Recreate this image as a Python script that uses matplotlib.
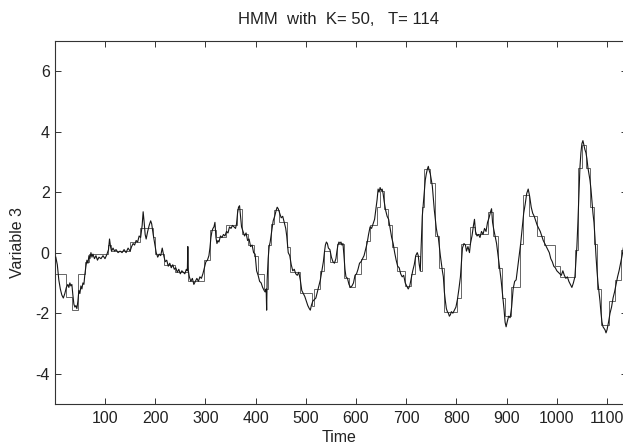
import numpy as np
import matplotlib
matplotlib.use("Agg")
import matplotlib.pyplot as plt

# ---- data ----
time = [2, 5, 8, 11, 14, 17, 20, 23, 26, 28, 30, 32, 34, 36, 38, 40, 42, 44, 46, 48, 50, 52, 54, 56, 58,
        60, 62, 64, 66, 68, 70, 72, 74, 76, 79, 82, 85, 88, 92, 96, 100, 104, 107, 109, 111, 113, 116, 119,
        122, 126, 130, 134, 138, 142, 146, 150, 153, 156, 159, 162, 165, 168, 171, 174, 176, 178, 180, 182,
        185, 188, 191, 193, 196, 199, 202, 205, 208, 211, 214, 217, 220, 223, 226, 229, 232, 235, 238, 241,
        244, 247, 250, 253, 256, 259, 262, 264, 265, 266, 268, 271, 274, 277, 280, 283, 286, 289, 292, 295,
        298, 301, 304, 307, 309, 311, 313, 315, 317, 319, 321, 323, 325, 327, 330, 333, 336, 339, 342, 345,
        348, 351, 354, 357, 360, 362, 364, 366, 368, 370, 372, 375, 378, 381, 384, 387, 390, 393, 396, 399,
        402, 405, 408, 411, 414, 417, 419, 421, 422, 423, 425, 427, 429, 432, 435, 438, 441, 443, 445, 448,
        451, 454, 457, 460, 462, 465, 468, 471, 474, 477, 480, 483, 486, 489, 492, 495, 498, 501, 504, 507,
        509, 511, 514, 517, 520, 523, 526, 529, 532, 535, 537, 539, 541, 543, 545, 548, 551, 554, 557, 560,
        562, 564, 566, 568, 570, 572, 574, 576, 578, 580, 583, 586, 589, 592, 595, 598, 601, 604, 607, 610,
        613, 616, 619, 622, 625, 628, 631, 634, 637, 640, 642, 644, 646, 648, 650, 652, 654, 656, 659, 662,
        665, 668, 671, 674, 677, 680, 683, 686, 689, 692, 695, 698, 701, 704, 707, 710, 713, 716, 719, 722,
        724, 726, 728, 730, 732, 734, 736, 738, 740, 742, 744, 746, 748, 750, 752, 754, 756, 758, 760, 762,
        764, 766, 768, 770, 772, 774, 776, 778, 780, 782, 784, 786, 788, 790, 793, 796, 799, 802, 805, 808,
        810, 812, 815, 818, 820, 823, 826, 828, 831, 834, 836, 838, 841, 844, 847, 850, 853, 856, 859, 862,
        865, 868, 870, 872, 874, 877, 880, 883, 886, 889, 892, 895, 897, 899, 901, 904, 907, 910, 913, 916,
        919, 922, 925, 928, 931, 934, 937, 940, 943, 946, 949, 952, 955, 958, 961, 964, 967, 970, 973, 976,
        979, 982, 985, 988, 991, 994, 997, 1000, 1003, 1006, 1009, 1012, 1015, 1018, 1021, 1024, 1027, 1030,
        1033, 1036, 1038, 1040, 1042, 1044, 1046, 1048, 1050, 1052, 1054, 1056, 1058, 1060, 1062, 1064, 1066,
        1068, 1070, 1072, 1074, 1076, 1078, 1080, 1082, 1084, 1086, 1088, 1090, 1092, 1094, 1096, 1098, 1100,
        1103, 1106, 1109, 1112, 1115, 1118, 1121, 1124, 1127, 1130, 1133, 1136, 1139]

variable3 = [-0.15, -0.4, -0.9, -1.2, -1.4, -1.5, -1.35, -1.15, -1.05, -1.15, -1.0, -1.1, -1.05, -1.4, -1.7,
             -1.8, -1.75, -1.85, -1.6, -1.25, -1.35, -1.1, -1.2, -1.0, -1.05, -0.7, -0.45, -0.25, -0.35, -0.1,
             -0.2, 0.0, -0.15, -0.05, -0.2, -0.1, -0.25, -0.15, -0.2, -0.1, -0.2, -0.05, 0.1, 0.45, 0.2, 0.05,
             0.15, 0.05, 0.1, 0.0, 0.05, 0.0, 0.1, 0.0, 0.15, 0.05, 0.2, 0.3, 0.25, 0.4, 0.35, 0.55, 0.5, 0.9,
             1.35, 1.0, 0.6, 0.45, 0.7, 0.9, 1.05, 0.95, 0.6, 0.3, 0.0, -0.15, -0.05, -0.1, 0.15, -0.1, -0.3,
             -0.25, -0.45, -0.35, -0.5, -0.4, -0.55, -0.5, -0.65, -0.55, -0.7, -0.6, -0.65, -0.7, -0.55, -0.6,
             0.2, -0.6, -0.8, -0.95, -0.85, -1.05, -0.95, -0.85, -0.95, -0.8, -0.85, -0.7, -0.5, -0.3, -0.25,
             -0.1, 0.15, 0.5, 0.7, 0.8, 0.85, 1.0, 0.5, 0.3, 0.4, 0.35, 0.55, 0.5, 0.6, 0.55, 0.7, 0.65, 0.85,
             0.8, 0.9, 0.85, 0.8, 0.95, 1.3, 1.5, 1.55, 1.2, 0.85, 0.7, 0.55, 0.65, 0.4, 0.45, 0.2, 0.25, 0.0,
             -0.05, -0.6, -0.75, -0.95, -1.0, -1.15, -1.25, -1.3, -1.2, -1.9, -0.9, -0.2, 0.2, 0.35, 0.7, 1.05,
             1.2, 1.4, 1.5, 1.45, 1.3, 1.15, 1.2, 1.0, 0.8, 0.55, 0.0, -0.1, -0.4, -0.6, -0.55, -0.7, -0.75,
             -0.65, -0.9, -1.25, -1.35, -1.45, -1.6, -1.75, -1.85, -1.9, -1.75, -1.6, -1.55, -1.5, -1.3, -1.1,
             -0.9, -0.6, -0.3, 0.0, 0.25, 0.35, 0.3, 0.15, 0.1, -0.15, -0.3, -0.35, -0.2, 0.05, 0.25, 0.35, 0.3,
             0.35, 0.25, 0.3, -0.1, -0.55, -0.8, -0.85, -1.05, -1.15, -1.1, -1.0, -0.75, -0.7, -0.55, -0.35,
             -0.3, -0.2, -0.1, 0.1, 0.3, 0.6, 0.85, 0.8, 0.95, 1.1, 1.5, 1.75, 2.1, 2.0, 2.15, 2.05, 2.1, 1.95,
             1.7, 1.4, 1.2, 1.1, 0.8, 0.5, 0.3, 0.0, -0.25, -0.45, -0.5, -0.7, -0.8, -0.75, -1.0, -1.1, -1.2,
             -1.1, -0.85, -0.6, -0.4, -0.1, 0.0, -0.1, -0.4, -0.6, 0.3, 1.2, 1.6, 2.0, 2.4, 2.6, 2.75, 2.85,
             2.7, 2.6, 2.4, 2.2, 1.8, 1.4, 1.1, 0.8, 0.6, 0.5, 0.2, -0.1, -0.35, -0.6, -0.8, -1.3, -1.6, -1.85,
             -1.95, -2.0, -2.1, -2.05, -1.95, -2.0, -1.9, -1.8, -1.55, -1.2, -0.8, -0.3, 0.15, 0.3, 0.25, 0.05,
             0.2, 0.0, 0.3, 0.55, 0.9, 1.1, 0.7, 0.55, 0.6, 0.5, 0.7, 0.6, 0.8, 0.7, 1.0, 1.15, 1.35, 1.45, 1.0,
             0.8, 0.55, 0.3, -0.1, -0.5, -0.9, -1.4, -1.9, -2.3, -2.45, -2.3, -2.1, -2.15, -1.8, -1.2, -0.95,
             -0.9, -0.5, -0.1, 0.3, 0.8, 1.3, 1.6, 1.95, 2.1, 1.85, 1.5, 1.3, 1.2, 1.05, 0.9, 0.8, 0.7, 0.55,
             0.4, 0.3, 0.2, 0.1, 0.0, -0.2, -0.3, -0.45, -0.5, -0.6, -0.65, -0.7, -0.75, -0.6, -0.75, -0.85,
             -0.8, -0.95, -1.05, -1.15, -1.0, -0.8, -0.3, 0.2, 1.0, 1.9, 2.8, 3.3, 3.6, 3.7, 3.55, 3.4, 3.3,
             3.1, 2.8, 2.6, 2.4, 2.1, 1.7, 1.3, 1.0, 0.5, -0.1, -0.6, -1.0, -1.3, -1.6, -2.0, -2.3, -2.45, -2.5,
             -2.55, -2.65, -2.55, -2.3, -2.0, -1.8, -1.5, -1.3, -1.05, -0.8, -0.6, -0.35, -0.1, 0.2, 0.4, 0.5]

# HMM piecewise-constant reconstruction: segment edges and state levels
hmm_edges = [1, 22, 34, 47, 60, 68, 105, 112, 150, 170, 195, 200, 218, 240, 266, 298, 310, 321, 342, 362,
             372, 384, 396, 405, 416, 424, 430, 437, 447, 462, 468, 489, 512, 516, 528, 536, 548, 562, 576,
             586, 598, 609, 620, 628, 641, 647, 656, 664, 672, 681, 698, 710, 717, 727, 731, 736, 748, 758,
             766, 776, 801, 810, 828, 838, 862, 872, 882, 890, 896, 908, 927, 932, 945, 960, 975, 996, 1006,
             1036, 1043, 1050, 1058, 1066, 1074, 1080, 1088, 1104, 1116, 1128, 1140]
hmm_levels = [-0.7, -1.45, -1.9, -0.7, -0.3, -0.05, 0.25, 0.05, 0.35, 0.8, 0.5, -0.05, -0.4, -0.65, -0.95,
              -0.25, 0.75, 0.5, 0.9, 1.45, 0.6, 0.25, -0.1, -0.7, -1.2, 0.25, 0.95, 1.4, 1.0, 0.2, -0.65,
              -1.35, -1.75, -1.2, -0.6, 0.05, -0.3, 0.3, -0.85, -1.15, -0.7, -0.2, 0.4, 0.9, 1.5, 2.05, 1.45,
              0.9, 0.2, -0.6, -1.1, -0.7, -0.1, -0.6, 1.5, 2.75, 2.3, 0.55, -0.5, -1.95, -1.5, 0.3, 0.85,
              0.6, 1.35, 0.55, -0.5, -1.5, -2.1, -1.15, 0.3, 1.9, 1.2, 0.55, 0.25, -0.45, -0.8, 0.1, 2.8,
              3.55, 2.8, 1.5, 0.3, -1.2, -2.4, -1.6, -0.9, 0.1]

x_ticks = [100, 200, 300, 400, 500, 600, 700, 800, 900, 1000, 1100]
y_ticks = [-4, -2, 0, 2, 4, 6]

title_text = "HMM  with  K= 50,   T= 114"
x_label = "Time"
y_label = "Variable 3"

# ---- figure ----
plt.rcParams['font.family'] = ['Liberation Sans', 'DejaVu Sans']
plt.rcParams['axes.unicode_minus'] = False

W, H = 623, 447
fig = plt.figure(figsize=(W / 100, H / 100), dpi=100)
ax = fig.add_axes([55.3 / W, 43 / H, 571.8 / W, 363.3 / H])

ax.stairs(hmm_levels, hmm_edges, color='#666666', linewidth=0.7, baseline=None, zorder=2)
ax.plot(time, variable3, color='#151515', linewidth=0.8, zorder=3)

ax.set_xlim(1, 1140)
ax.set_ylim(-5, 7)
ax.set_xticks(x_ticks)
ax.set_yticks(y_ticks)
ax.set_xticklabels([str(t) for t in x_ticks])
ax.set_yticklabels([str(t) for t in y_ticks])

ax.tick_params(direction='in', length=4, width=0.7, top=True, right=True,
               labelsize=11.5, colors='#333333', labelcolor='#222222')
ax.tick_params(axis='x', pad=5)
ax.tick_params(axis='y', pad=4)
for s in ax.spines.values():
    s.set_linewidth(0.8)
    s.set_color('#333333')

fig.text(339 / W, 1 - 20 / H, title_text, ha='center', va='center', fontsize=12, color='#222222')
fig.text(339 / W, 1 - 438 / H, x_label, ha='center', va='center', fontsize=11.5, color='#222222')
fig.text(18 / W, 1 - 243 / H, y_label, ha='center', va='center', rotation=90, fontsize=11.5, color='#222222')

fig.savefig("out.png", dpi=100)
